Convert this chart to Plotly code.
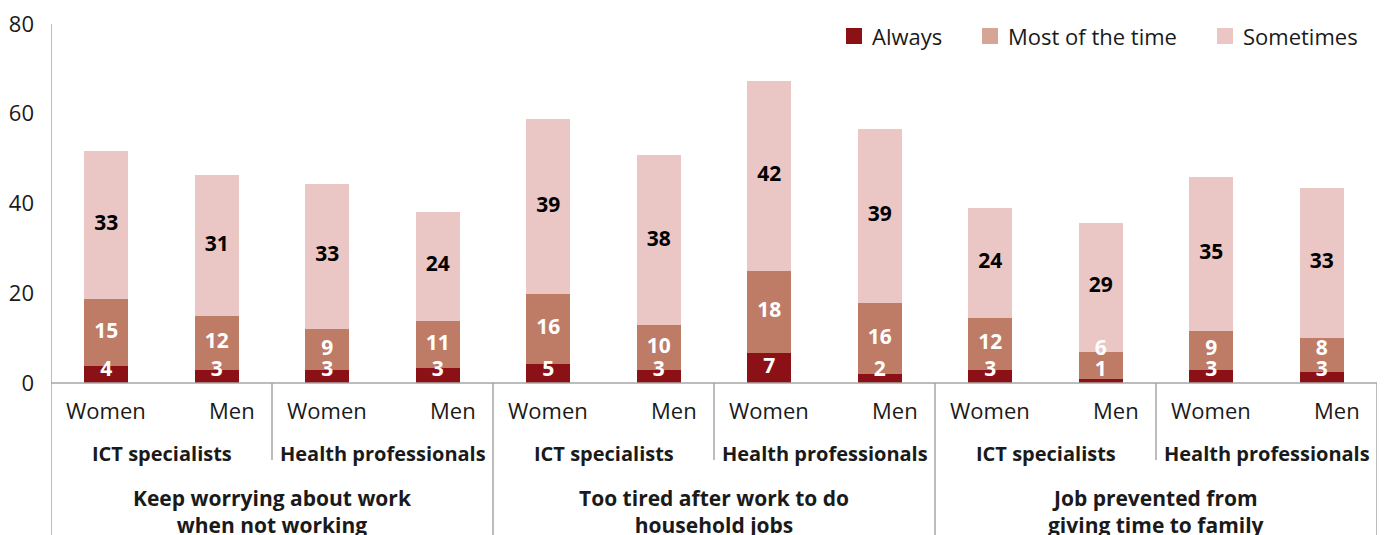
import plotly.graph_objects as go

# ---------------- data ----------------
gender = ["Women", "Men"] * 6
occupation_groups = ["ICT specialists", "Health professionals"] * 3
questions = ["Keep worrying about work<br>when not working",
             "Too tired after work to do<br>household jobs",
             "Job prevented from<br>giving time to family"]

series_names = ["Always", "Most of the time", "Sometimes"]
always = [3.7, 2.9, 2.9, 3.3, 4.2, 2.9, 6.6, 1.9, 3.0, 0.8, 3.0, 2.4]
most = [15.1, 12.1, 9.2, 10.6, 15.6, 10.0, 18.4, 16.0, 11.5, 6.2, 8.6, 7.6]
sometimes = [32.9, 31.3, 32.3, 24.3, 39.1, 37.8, 42.2, 38.7, 24.6, 28.7, 34.3, 33.5]

always_lbl = ["4", "3", "3", "3", "5", "3", "7", "2", "3", "1", "3", "3"]
most_lbl = ["15", "12", "9", "11", "16", "10", "18", "16", "12", "6", "9", "8"]
some_lbl = ["33", "31", "33", "24", "39", "38", "42", "39", "24", "29", "35", "33"]

y_ticks = [0, 20, 40, 60, 80]

# ---------------- style ----------------
C_ALWAYS = "#8C1116"
C_MOST = "#BE7B66"
C_MOST_LEG = "#D5A595"
C_SOME = "#EAC6C5"
LINE = "#A6A6A6"
FONT = "Open Sans"
TXT = "#1a1a1a"

# page has an 8px body margin: the figure is laid out so that the plot area
# lands at window columns 51..1377 and rows 24..383
OFF = 8
WIN_W, WIN_H = 1387, 535
PL, PR, PT, PB = 51, 1377, 24, 383
pw = PR - PL
ph = PB - PT
W, H = WIN_W - OFF, WIN_H - OFF
L, T = PL - OFF, PT - OFF
R = W - L - pw
B = H - T - ph


def py(p):
    """window pixel row -> paper y"""
    return (PB - p) / ph


def px(p):
    """window pixel column -> paper x"""
    return (p - PL) / pw


n = len(gender)
xs = list(range(n))

fig = go.Figure()
for vals, col, name in [(always, C_ALWAYS, series_names[0]),
                        (most, C_MOST, series_names[1]),
                        (sometimes, C_SOME, series_names[2])]:
    fig.add_trace(go.Bar(x=xs, y=vals, marker=dict(color=col, line=dict(width=0)),
                         width=0.4, name=name, showlegend=False, hoverinfo="skip"))

# data labels
a_y = [max(a / 2, 2.8) for a in always]
m_y = [max(a + m / 2, ay + 4.5) for a, m, ay in zip(always, most, a_y)]
s_y = [a + m + s / 2 for a, m, s in zip(always, most, sometimes)]
for ys, lbl, col in [(a_y, always_lbl, "white"), (m_y, most_lbl, "white"), (s_y, some_lbl, "black")]:
    fig.add_trace(go.Scatter(x=xs, y=ys, mode="text", text=lbl, showlegend=False,
                             textfont=dict(family=FONT, size=21, color=col, weight="bold"),
                             hoverinfo="skip", cliponaxis=False))

shapes = []
ann = []

# legend drawn as squares + text (top right inside plot)
leg_cols = [C_ALWAYS, C_MOST_LEG, C_SOME]
leg_sq_left = [846, 982, 1217]
for name, col, x0 in zip(series_names, leg_cols, leg_sq_left):
    shapes.append(dict(type="rect", xref="paper", yref="paper", x0=px(x0), x1=px(x0 + 16),
                       y0=py(44), y1=py(28), fillcolor=col, line=dict(width=0)))
    ann.append(dict(x=px(x0 + 24), y=py(36), xref="paper", yref="paper", text=name,
                    showarrow=False, xanchor="left", yanchor="middle",
                    font=dict(family=FONT, size=22, color=TXT)))

# axis / separator lines
bottom = py(WIN_H)
lvl2_bottom = py(460)
shapes.append(dict(type="line", xref="x", yref="paper", x0=-0.5, x1=-0.5, y0=bottom, y1=1,
                   line=dict(color=LINE, width=1.5)))
shapes.append(dict(type="line", xref="x", yref="paper", x0=-0.5, x1=n - 0.5, y0=0, y1=0,
                   line=dict(color=LINE, width=1.5)))
for i in range(1, n // 4 + 1):
    xb = 4 * i - 0.5
    shapes.append(dict(type="line", xref="x", yref="paper", x0=xb, x1=xb, y0=bottom, y1=0,
                       line=dict(color=LINE, width=1.5)))
for i in range(n // 4):
    xb = 4 * i + 1.5
    shapes.append(dict(type="line", xref="x", yref="paper", x0=xb, x1=xb, y0=lvl2_bottom, y1=0,
                       line=dict(color=LINE, width=1.5)))

# three levels of category labels
for i, g in enumerate(gender):
    ann.append(dict(x=i, y=py(410), xref="x", yref="paper", text=g, showarrow=False,
                    xshift=15 if g == "Men" else 0,
                    font=dict(family=FONT, size=22, color=TXT), yanchor="middle"))
for j, occ in enumerate(occupation_groups):
    ann.append(dict(x=2 * j + 0.5, y=py(453), xref="x", yref="paper", text=occ,
                    showarrow=False, font=dict(family=FONT, size=20, color=TXT, weight="bold"),
                    yanchor="middle"))
for k, q in enumerate(questions):
    ann.append(dict(x=4 * k + 1.5, y=py(482), xref="x", yref="paper", text=q,
                    showarrow=False, font=dict(family=FONT, size=21, color=TXT, weight="bold"),
                    yanchor="top"))

fig.update_layout(
    width=W, height=H,
    margin=dict(l=L, r=R, t=T, b=B, pad=0, autoexpand=False),
    barmode="stack",
    showlegend=False,
    plot_bgcolor="white", paper_bgcolor="white",
    xaxis=dict(range=[-0.5, n - 0.5], showticklabels=False, showgrid=False, zeroline=False,
               showline=False, ticks=""),
    yaxis=dict(range=[0, 80], tickvals=y_ticks, showgrid=False, zeroline=False, showline=False,
               ticks="", ticklabelstandoff=16, ticklabeloverflow="allow",
               tickfont=dict(family=FONT, size=22, color=TXT)),
    shapes=shapes,
    annotations=ann,
)

fig.write_html("out.html")
